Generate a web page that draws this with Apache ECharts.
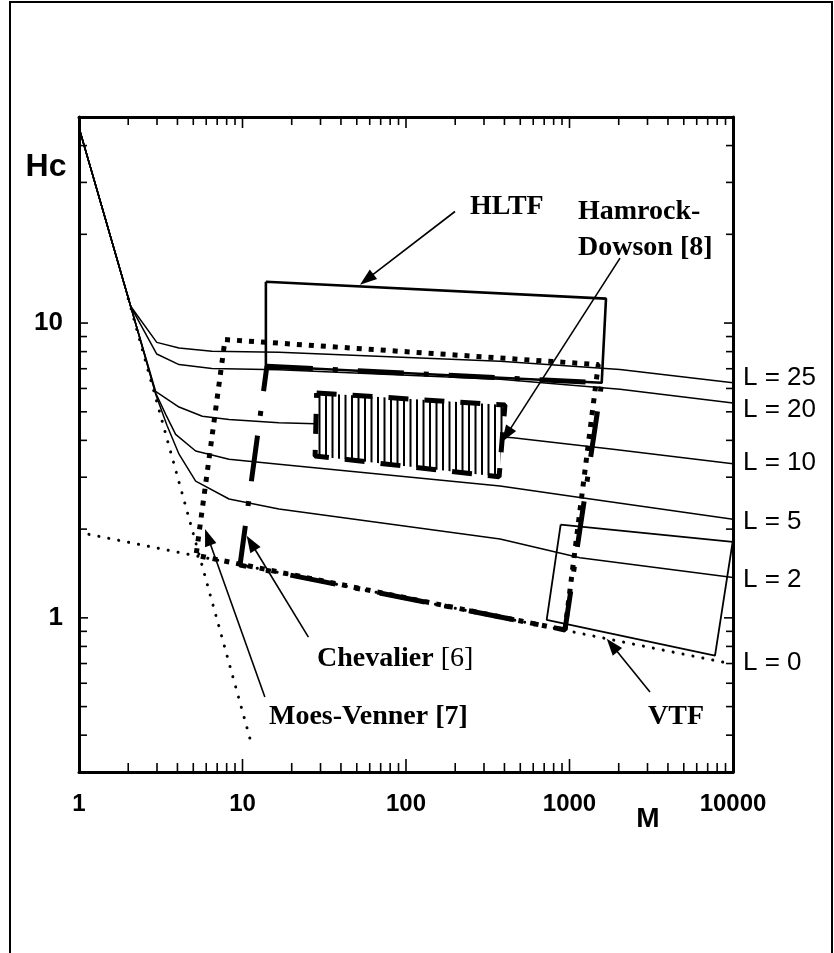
<!DOCTYPE html>
<html><head><meta charset="utf-8">
<script src="https://cdn.jsdelivr.net/npm/echarts@6/dist/echarts.min.js"></script>
<style>html,body{margin:0;padding:0;background:#fff}#c{width:834px;height:953px}</style>
</head><body><div id="c"></div>
<script>
// ---- data ----
const curveL25 = [[1,46],[2.07,11.4],[2.99,8.6],[4.09,8.23],[6.5,8.02],[16.7,7.96],[376,7.42],[2037,6.96],[10000,6.27]];
const curveL20 = [[1,46],[2.07,11.4],[2.99,7.85],[4.09,7.23],[6.5,7.01],[16.7,6.95],[376,6.45],[2037,5.96],[10000,5.36]];
const curveL10 = [[1,46],[2.07,11.4],[2.94,5.87],[4.09,5.19],[5.68,4.83],[8.27,4.71],[16.7,4.59],[28,4.55],[451,4.08],[1845,3.73],[10000,3.33]];
const curveL5  = [[1,46],[2.07,11.4],[2.94,5.8],[3.39,4.9],[3.9,4.19],[5.17,3.68],[8.27,3.45],[16.7,3.32],[376,2.80],[1159,2.56],[10000,2.16]];
const curveL2  = [[1,46],[2.07,11.4],[2.94,5.75],[3.45,4.5],[4.09,3.59],[5.17,2.91],[8.27,2.53],[16.7,2.34],[376,1.85],[1159,1.60],[10000,1.37]];
const curveL0  = [[1.15,1.92],[9560,0.70]];
const steepAsymptote = [[2,12.1],[11.1,0.39]];

const hltfBox       = [[13.9,13.8],[1672,12.1],[1574,6.27],[13.9,7.14],[13.9,13.8]];
const moesVennerBox = [[7.82,8.79],[1500,7.23],[938,0.91],[5.2,1.63],[7.82,8.79]];
const chevalierBox  = [[14.1,7.14],[1574,6.27],[938,0.91],[9.66,1.51],[14.1,7.14]];
const hamrockBox    = [[28.4,5.79],[403,5.27],[371,3.01],[27.8,3.54],[28.4,5.79]];
const vtfBox        = [[883,2.07],[9950,1.81],[7760,0.745],[725,0.984],[883,2.07]];

// arrows: [tail, head]
const arrows = [
  [[199.4,23.9],[52.3,13.5]],   // HLTF
  [[2037,16.6],[386,3.95]],     // Hamrock-Dowson
  [[25.3,0.86],[10.6,1.90]],    // Chevalier
  [[13.7,0.539],[5.90,2.0]],    // Moes-Venner
  [[3106,0.56],[1689,0.85]]     // VTF
];

const xTickLabels = ['1','10','100','1000','10000'];
const yTickLabels = ['1','10'];
const xMajorTicks = [1,10,100,1000,10000];
const xMinorTicks = [2,3,4,5,6,7,8,9,20,30,40,50,60,70,80,90,200,300,400,500,600,700,800,900,2000,3000,4000,5000,6000,7000,8000,9000];
const yMajorTicks = [1,10];
const yMinorTicks = [0.4,0.5,0.6,0.7,0.8,0.9,2,3,4,5,6,7,8,9,20,30,40];
const curveLabels = ['L = 25','L = 20','L = 10','L = 5','L = 2','L = 0'];

// ---- chart ----
const chart = echarts.init(document.getElementById('c'));
const X_MIN=1, X_MAX=10000, Y_MIN=0.3, Y_MAX=50;

// tick items: side 0 bottom,1 top,2 left,3 right
const tickItems = [];
xMajorTicks.forEach(v=>{tickItems.push({s:0,v,m:1});tickItems.push({s:1,v,m:1});});
xMinorTicks.forEach(v=>{tickItems.push({s:0,v,m:0});tickItems.push({s:1,v,m:0});});
yMajorTicks.forEach(v=>{tickItems.push({s:2,v,m:1});tickItems.push({s:3,v,m:1});});
yMinorTicks.forEach(v=>{tickItems.push({s:2,v,m:0});tickItems.push({s:3,v,m:0});});
const tickLen = {0:[9,13],1:[8,11],2:[8,9],3:[7,9]};

// hatch pattern
const pc = document.createElement('canvas'); pc.width = 13; pc.height = 8;
const g = pc.getContext('2d');
g.fillStyle = '#fff'; g.fillRect(0,0,13,8);
g.fillStyle = '#000'; g.fillRect(0,0,2,8); g.fillRect(6.5,0,2,8);

function lineSeries(data, style, z){
  return {type:'line', data, showSymbol:false, symbol:'none', silent:true, z:z||2,
    lineStyle:Object.assign({color:'#000'}, style), emphasis:{disabled:true}};
}

const axisCommonX = {type:'log', logBase:10, min:X_MIN, max:X_MAX,
  axisLine:{show:true, onZero:false, lineStyle:{color:'#000', width:3}},
  axisTick:{show:false}, minorTick:{show:false}, splitLine:{show:false}, minorSplitLine:{show:false}};
const axisCommonY = {type:'log', logBase:10, min:Y_MIN, max:Y_MAX,
  axisLine:{show:true, onZero:false, lineStyle:{color:'#000', width:3}},
  axisTick:{show:false}, minorTick:{show:false}, splitLine:{show:false}, minorSplitLine:{show:false}};

const serif = 'Liberation Serif, Times New Roman, serif';
const sans = 'Liberation Sans, Arial, sans-serif';

const labelYs = [378,410,463,522,580,663];
const HEAD_LEN = 17, HEAD_HALF = 6;

const option = {
  animation:false,
  backgroundColor:'#fff',
  grid:{left:79, top:117, width:654, height:655},
  xAxis:[
    Object.assign({}, axisCommonX, {position:'bottom',
      axisLabel:{color:'#000', fontSize:24, fontWeight:'bold', fontFamily:sans, margin:20,
        formatter:(v)=>{const i=xMajorTicks.findIndex(t=>Math.abs(t-v)/t<1e-6);return i>=0?xTickLabels[i]:'';}}}),
    Object.assign({}, axisCommonX, {position:'top', axisLabel:{show:false}})
  ],
  yAxis:[
    Object.assign({}, axisCommonY, {position:'left',
      axisLabel:{color:'#000', fontSize:26, fontWeight:'bold', fontFamily:sans, margin:16,
        formatter:(v)=>{const i=yMajorTicks.findIndex(t=>Math.abs(t-v)/t<1e-6);return i>=0?yTickLabels[i]:'';}}}),
    Object.assign({}, axisCommonY, {position:'right', axisLabel:{show:false}})
  ],
  series:[
    lineSeries(curveL25,{width:1.5}),
    lineSeries(curveL20,{width:1.5}),
    lineSeries(curveL10,{width:1.5}),
    lineSeries(curveL5,{width:1.5}),
    lineSeries(curveL2,{width:1.5}),
    lineSeries(curveL0,{width:3, type:[0.1,10], cap:'round'}),
    lineSeries(steepAsymptote,{width:3, type:[0.1,10.5], cap:'round'}),
    lineSeries(vtfBox,{width:1.8},3),
    lineSeries(hltfBox,{width:2.6},3),
    {type:'custom', silent:true, z:4, clip:false, data:hamrockBox.slice(0,1),
      renderItem:(params, api)=>{
        const pts = hamrockBox.slice(0,4).map(p=>api.coord(p));
        return {type:'polygon', shape:{points:pts}, style:{fill:{image:pc, repeat:'repeat'}, stroke:null}};
      }},
    lineSeries(hamrockBox,{width:5, type:[20,16]},5),
    lineSeries(moesVennerBox,{width:5, type:[5,7], cap:'butt'},5),
    lineSeries(chevalierBox,{width:5, type:[46,20,5,20], cap:'butt'},5),
    // arrows
    {type:'custom', silent:true, z:7, clip:false,
      data: arrows.map(a=>a[1]),
      renderItem:(params, api)=>{
        const a = arrows[params.dataIndex];
        const t = api.coord(a[0]), h = api.coord(a[1]);
        const dx = h[0]-t[0], dy = h[1]-t[1], d = Math.hypot(dx,dy);
        const ux = dx/d, uy = dy/d;
        const bx = h[0]-ux*HEAD_LEN, by = h[1]-uy*HEAD_LEN;
        return {type:'group', children:[
          {type:'line', shape:{x1:t[0],y1:t[1],x2:bx+ux*2,y2:by+uy*2}, style:{stroke:'#000', lineWidth:1.6}},
          {type:'polygon', shape:{points:[[h[0],h[1]],[bx-uy*HEAD_HALF,by+ux*HEAD_HALF],[bx+uy*HEAD_HALF,by-ux*HEAD_HALF]]},
            style:{fill:'#000', stroke:null}}
        ]};
      }},
    // ticks
    {type:'custom', silent:true, z:6, clip:false,
      data: tickItems.map(t=> t.s<2 ? [t.v,1] : [1,t.v]),
      renderItem:(params, api)=>{
        const t = tickItems[params.dataIndex];
        const cs = params.coordSys;
        const L = tickLen[t.s][t.m];
        let x1,y1,x2,y2;
        if (t.s===0){ const px=api.coord([t.v,1])[0]; x1=x2=px; y1=cs.y+cs.height; y2=y1-L; }
        else if (t.s===1){ const px=api.coord([t.v,1])[0]; x1=x2=px; y1=cs.y; y2=y1+L; }
        else if (t.s===2){ const py=api.coord([1,t.v])[1]; y1=y2=py; x1=cs.x; x2=x1+L; }
        else { const py=api.coord([1,t.v])[1]; y1=y2=py; x1=cs.x+cs.width; x2=x1-L; }
        return {type:'line', shape:{x1,y1,x2,y2}, style:{stroke:'#000', lineWidth:1.6}};
      }}
  ],
  graphic:[
    {type:'rect', shape:{x:10,y:2,width:822,height:1000}, style:{fill:null, stroke:'#000', lineWidth:2}, silent:true, z:0},
    {type:'text', x:46, y:167, style:{text:'Hc', font:'bold 32px '+sans, fill:'#000', align:'center', verticalAlign:'middle'}},
    {type:'text', x:648, y:819, style:{text:'M', font:'bold 28px '+sans, fill:'#000', align:'center', verticalAlign:'middle'}},
    ...curveLabels.map((s,i)=>({type:'text', x:743, y:labelYs[i], style:{text:s, font:'26px '+sans, fill:'#000', align:'left', verticalAlign:'middle'}})),
    {type:'text', x:470, y:207, style:{text:'HLTF', font:'bold 28px '+serif, fill:'#000', align:'left', verticalAlign:'middle'}},
    {type:'text', x:578, y:212, style:{text:'Hamrock-', font:'bold 28px '+serif, fill:'#000', align:'left', verticalAlign:'middle'}},
    {type:'text', x:578, y:248, style:{text:'Dowson [8]', font:'bold 28px '+serif, fill:'#000', align:'left', verticalAlign:'middle'}},
    {type:'text', x:317, y:659, style:{text:'{b|Chevalier }{r|[6]}', fill:'#000', align:'left', verticalAlign:'middle',
      rich:{b:{font:'bold 28px '+serif, fill:'#000'}, r:{font:'28px '+serif, fill:'#000'}}}},
    {type:'text', x:269, y:717, style:{text:'Moes-Venner [7]', font:'bold 28px '+serif, fill:'#000', align:'left', verticalAlign:'middle'}},
    {type:'text', x:648, y:717, style:{text:'VTF', font:'bold 28px '+serif, fill:'#000', align:'left', verticalAlign:'middle'}}
  ]
};
chart.setOption(option);
</script>
</body></html>
